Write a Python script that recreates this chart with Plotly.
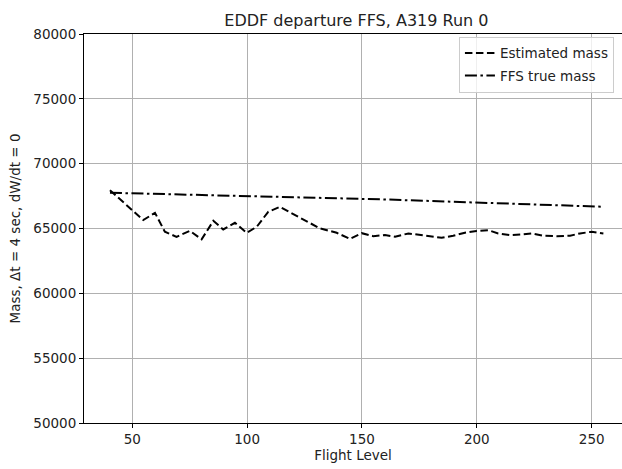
import plotly.graph_objects as go

# Flight level samples and the mass estimate at each one (kg)
flight_level = [40.3, 49.7, 54.8, 59.9, 64.2, 69.3, 75.1, 80.2, 85.3, 89.6,
                94.7, 99.8, 104.2, 109.2, 114.3, 120.1, 127.4, 131.7, 139.0, 144.8,
                149.9, 154.9, 160.0, 164.4, 170.2, 175.3, 179.6, 184.7, 189.7, 194.8,
                199.9, 205.0, 209.3, 214.4, 219.5, 223.9, 228.9, 234.8, 240.6, 244.9,
                250.0, 255.1]
estimated_mass = [67950, 66420, 65650, 66210, 64750, 64360, 64820, 64160, 65590, 64930,
                  65440, 64670, 65130, 66290, 66670, 66110, 65390, 65010, 64670, 64200,
                  64640, 64410, 64490, 64360, 64620, 64490, 64360, 64280, 64440, 64670,
                  64800, 64870, 64620, 64490, 64540, 64620, 64440, 64410, 64440, 64620,
                  64750, 64620]

# Reference mass from the full flight simulator
true_fl = [40.3, 159.0, 255.1]
true_mass = [67755, 67245, 66675]

x_ticks = [50, 100, 150, 200, 250]
y_ticks = [50000, 55000, 60000, 65000, 70000, 75000, 80000]

font = "DejaVu Sans"
text_color = "#222222"

fig = go.Figure()
fig.add_trace(go.Scatter(
    x=flight_level, y=estimated_mass, mode="lines", name="Estimated mass",
    legendgroup="est",
    line=dict(color="black", width=2, dash="7.5px,3.5px"),
))
fig.add_trace(go.Scatter(
    x=true_fl, y=true_mass, mode="lines", name="FFS true mass",
    legendgroup="ffs",
    line=dict(color="black", width=2, dash="12px,3.5px,2.5px,3.5px"),
))

axis_common = dict(
    showgrid=True, gridcolor="#b0b0b0", gridwidth=1,
    showline=True, linecolor="black", linewidth=1,
    ticks="outside", ticklen=4, tickcolor="black", tickwidth=1,
    zeroline=False,
    tickfont=dict(family=font, size=13.5, color=text_color),
)

fig.update_xaxes(
    range=[29.0, 263.2], tickvals=x_ticks, mirror=True,
    title=dict(text="Flight Level", font=dict(family=font, size=13.5, color=text_color),
               standoff=0),
    **axis_common,
)
fig.update_yaxes(
    range=[50000, 80000], tickvals=y_ticks, tickformat="d", mirror=False,
    title=dict(text="Mass, \u0394t = 4 sec, dW/dt = 0",
               font=dict(family=font, size=13.5, color=text_color), standoff=9),
    **axis_common,
)

fig.update_layout(
    width=622, height=469,
    margin=dict(l=84, r=0, t=34, b=46),
    paper_bgcolor="white", plot_bgcolor="white",
    title=dict(text="EDDF departure FFS, A319 Run 0", x=0.573, xanchor="center",
               y=0.957, yanchor="middle",
               font=dict(family=font, size=16, color=text_color)),
    legend=dict(x=0.985, y=0.993, xanchor="right", yanchor="top",
                bgcolor="rgba(255,255,255,0.8)", bordercolor="#cccccc", borderwidth=1,
                font=dict(family=font, size=13.5, color=text_color), itemwidth=30,
                traceorder="grouped", tracegroupgap=2),
    showlegend=True,
)

fig.write_html("out.html")
